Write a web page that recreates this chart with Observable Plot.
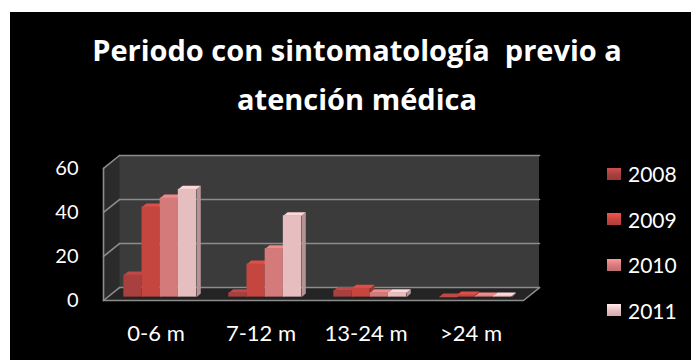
<!DOCTYPE html>
<html>
<head>
<meta charset="utf-8">
<script src="https://cdn.jsdelivr.net/npm/d3@7"></script>
<script src="https://cdn.jsdelivr.net/npm/@observablehq/plot@0.6"></script>
<style>
  body { margin: 0; width: 693px; height: 360px; overflow: hidden; position: relative; background: #fff;
         font-family: Lato, "Open Sans", sans-serif; }
  #panel { position: absolute; left: 10px; top: 12px; width: 681px; height: 348px; background: #000; }
  .title { position: absolute; left: 0; width: 714px; text-align: center; color: #fff; font-weight: 700;
           font-family: "Open Sans", sans-serif; font-size: 29px; line-height: 49px; white-space: pre; }
  #chart { position: absolute; left: 0; top: 0; }
  #chart g[aria-label^="x-axis"] text { font-size: 22px; }
  #legend { position: absolute; left: 607px; top: 151px; color: #fff; font-size: 21px; }
  .row { height: 45.5px; display: flex; align-items: center; }
  .sw { width: 14px; height: 12px; margin-right: 7px; }
</style>
</head>
<body>
<div id="panel"></div>
<div class="title" style="top:25px">Periodo con sintomatología  previo a</div>
<div class="title" style="top:74px">atención médica</div>
<div id="chart"></div>
<div id="legend"></div>
<script>
// Period categories and yearly series
const categories = ["0-6 m", "7-12 m", "13-24 m", ">24 m"];
const years = ["2008", "2009", "2010", "2011"];
const values2008 = [10, 2, 3, 0];
const values2009 = [41, 15, 4, 1];
const values2010 = [45, 22, 2, 0.5];
const values2011 = [49, 37, 2, 0.5];
const yTicks = [0, 20, 40, 60];

// Series colours
const palette = ["#a8403f", "#c5453f", "#d57a7b", "#e7bebf"];

// Oblique 3D box: depth shift of the back wall, in data units
const DX = 0.152, DY = 5.9;
const YMAX = 60;
const BAR_W = 0.173;            // bar width in category units
const FA = 0.26, FB = 0.53;     // front / back depth of the bars (fraction of depth)

const series = [values2008, values2009, values2010, values2011];
const bars = [];
categories.forEach((cat, i) => {
  years.forEach((year, j) => {
    const xl = i + 0.5 + (j - 2) * BAR_W;
    bars.push({cat, year, value: series[j][i], xl, xr: xl + BAR_W, color: palette[j]});
  });
});

// Side and top faces of each bar as closed polygons
const faces = [];
bars.forEach((b, k) => {
  const v = b.value;
  const side = d3.color(b.color).darker(0.7).formatHex();
  const top = d3.color(b.color).brighter(0.35).formatHex();
  [[b.xr + FA * DX, FA * DY], [b.xr + FB * DX, FB * DY], [b.xr + FB * DX, v + FB * DY], [b.xr + FA * DX, v + FA * DY]]
    .forEach(([x, y]) => faces.push({id: `s${k}`, x, y, fill: side}));
  [[b.xl + FA * DX, v + FA * DY], [b.xr + FA * DX, v + FA * DY], [b.xr + FB * DX, v + FB * DY], [b.xl + FB * DX, v + FB * DY]]
    .forEach(([x, y]) => faces.push({id: `t${k}`, x, y, fill: top}));
});

// Walls and floor
const n = categories.length;
const walls = [
  ...[[0, 0], [DX, DY], [DX, YMAX + DY], [0, YMAX]].map(([x, y]) => ({id: "side", x, y, fill: "#2b2b2b"})),
  ...[[0, 0], [n, 0], [n + DX, DY], [DX, DY]].map(([x, y]) => ({id: "floor", x, y, fill: "#242424"}))
];

// Grid lines across the back wall and the side wall
const grid = [];
yTicks.forEach(t => {
  grid.push({id: `b${t}`, x: DX, y: t + DY}, {id: `b${t}`, x: n + DX, y: t + DY});
  grid.push({id: `w${t}`, x: 0, y: t}, {id: `w${t}`, x: DX, y: t + DY});
});
const edges = [
  {id: "front", x: 0, y: 0}, {id: "front", x: n, y: 0}, {id: "front", x: n + DX, y: DY},
  {id: "left", x: 0, y: 0}, {id: "left", x: 0, y: YMAX}
];

const chart = Plot.plot({
  width: 693,
  height: 360,
  marginLeft: 103,
  marginRight: 154,
  marginTop: 155,
  marginBottom: 60,
  style: {background: "transparent", color: "#fff", fontFamily: "Lato, 'Open Sans', sans-serif", fontSize: "20px"},
  color: {type: "identity"},
  x: {domain: [0, n + DX], ticks: categories.map((c, i) => i + 0.5), tickFormat: d => categories[Math.floor(d)],
      tickSize: 0, tickPadding: 25, label: null},
  y: {domain: [0, YMAX + DY], ticks: yTicks, tickSize: 0, tickPadding: 25, label: null},
  marks: [
    Plot.rect([0], {x1: DX, x2: n + DX, y1: DY, y2: YMAX + DY, fill: "#3b3b3b"}),
    Plot.line(walls, {x: "x", y: "y", z: "id", fill: "fill", stroke: null, curve: "linear-closed"}),
    Plot.line(grid, {x: "x", y: "y", z: "id", stroke: "#8c8c8c", strokeWidth: 1.6}),
    Plot.line(edges, {x: "x", y: "y", z: "id", stroke: "#8c8c8c", strokeWidth: 1.6}),
    Plot.line(faces, {x: "x", y: "y", z: "id", fill: "fill", stroke: null, curve: "linear-closed"}),
    Plot.rect(bars, {x1: d => d.xl + FA * DX, x2: d => d.xr + FA * DX, y1: FA * DY, y2: d => d.value + FA * DY,
                     fill: "color"})
  ]
});
document.getElementById("chart").append(chart);

// Legend
const legend = d3.select("#legend");
years.forEach((y, j) => {
  const row = legend.append("div").attr("class", "row");
  const c = d3.color(palette[j]);
  row.append("div").attr("class", "sw")
    .style("background", `linear-gradient(to bottom, ${c.brighter(0.6).formatHex()} 0%, ${c.formatHex()} 55%, ${c.darker(0.3).formatHex()} 100%)`);
  row.append("span").text(y);
});
</script>
</body>
</html>
